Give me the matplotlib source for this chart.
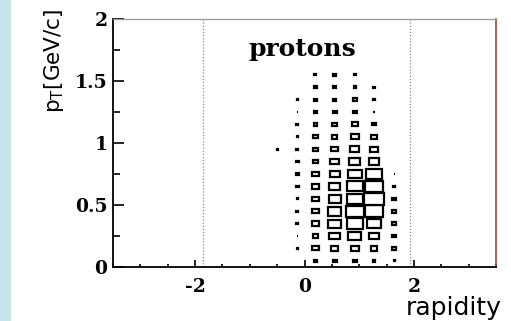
import matplotlib
matplotlib.use("Agg")
import matplotlib.pyplot as plt
from matplotlib.patches import Rectangle
from matplotlib.ticker import MultipleLocator, FixedLocator

# rapidity bin centres (columns) and pT bin centres (rows)
rapidity_centres = [-0.49, -0.13, 0.20, 0.55, 0.92, 1.27, 1.64]
pt_centres = [0.05, 0.15, 0.25, 0.35, 0.45, 0.55, 0.65, 0.75,
              0.85, 0.95, 1.05, 1.15, 1.25, 1.35, 1.45, 1.55]
rap_bin_width = 0.355
pt_bin_width = 0.1

# proton yield per (pT, rapidity) cell, one list per pT bin
counts = [
    [0, 0, 18, 20, 20, 12, 6],     # 0.05
    [0, 8, 32, 40, 42, 34, 18],    # 0.15
    [0, 8, 30, 55, 66, 55, 22],    # 0.25
    [0, 10, 36, 63, 83, 68, 20],   # 0.35
    [0, 10, 36, 70, 90, 95, 22],   # 0.45
    [0, 9, 36, 62, 85, 100, 20],   # 0.55
    [0, 14, 36, 60, 82, 95, 10],   # 0.65
    [0, 12, 35, 52, 70, 78, 7],    # 0.75
    [0, 14, 30, 45, 57, 52, 0],    # 0.85
    [6, 10, 24, 36, 48, 38, 0],    # 0.95
    [0, 8, 22, 28, 38, 28, 0],     # 1.05
    [0, 10, 18, 22, 32, 16, 0],    # 1.15
    [0, 7, 17, 20, 24, 8, 0],      # 1.25
    [0, 7, 15, 16, 18, 8, 0],      # 1.35
    [0, 0, 14, 14, 12, 8, 0],      # 1.45
    [0, 0, 10, 12, 10, 0, 0],      # 1.55
]

x_ticks = [-2, 0, 2]
y_ticks = [0, 0.5, 1, 1.5, 2]
y_tick_labels = ["0", "0.5", "1", "1.5", "2"]
acceptance_edges = [-1.85, 1.93]

W, H = 511, 321
fig = plt.figure(figsize=(W / 100, H / 100), dpi=100)
fig.patch.set_facecolor("white")

# light blue strip down the left edge
fig.add_artist(Rectangle((0, 0), 11 / W, 1, transform=fig.transFigure,
                         facecolor="#c6e4ea", edgecolor="none", zorder=0))

ax = fig.add_axes([113 / W, 1 - 267 / H, (496 - 113) / W, (267 - 19) / H])
ax.set_xlim(-3.5, 3.5)
ax.set_ylim(0, 2)

vmax = max(max(r) for r in counts)
for j, pt in enumerate(pt_centres):
    for i, y in enumerate(rapidity_centres):
        v = counts[j][i]
        if v <= 0:
            continue
        w = rap_bin_width * v / vmax
        h = pt_bin_width * v / vmax
        ax.add_patch(Rectangle((y - w / 2, pt - h / 2), w, h,
                               facecolor="white", edgecolor="black",
                               linewidth=1.6, zorder=3))

for xe in acceptance_edges:
    ax.axvline(xe, color="#888888", linestyle=(0, (1, 1.5)), linewidth=0.9, zorder=1)

ax.text(-0.05, 1.76, "protons", ha="center", va="center",
        fontfamily="DejaVu Serif", fontweight="bold", fontsize=18)

# frame
ax.spines["left"].set_color("black")
ax.spines["left"].set_linewidth(1.3)
ax.spines["bottom"].set_color("black")
ax.spines["bottom"].set_linewidth(1.3)
ax.spines["top"].set_color("#999999")
ax.spines["top"].set_linestyle((0, (1, 1)))
ax.spines["top"].set_linewidth(0.9)
ax.spines["right"].set_color("#a8432e")
ax.spines["right"].set_linewidth(1.2)

ax.xaxis.set_major_locator(FixedLocator(x_ticks))
ax.xaxis.set_minor_locator(MultipleLocator(0.5))
ax.yaxis.set_major_locator(FixedLocator(y_ticks))
ax.yaxis.set_minor_locator(MultipleLocator(0.25))
ax.set_yticklabels(y_tick_labels)
ax.set_xticklabels([str(t) for t in x_ticks])
ax.tick_params(axis="both", which="both", direction="in", top=False, right=False,
               color="black", width=1.2)
ax.tick_params(axis="y", which="major", length=8, pad=4)
ax.tick_params(axis="y", which="minor", length=5)
ax.tick_params(axis="x", which="major", length=5, pad=8)
ax.tick_params(axis="x", which="minor", length=2.5)
for lab in ax.get_xticklabels() + ax.get_yticklabels():
    lab.set_fontfamily("DejaVu Serif")
    lab.set_fontweight("bold")
    lab.set_fontsize(13.5)

plt.rcParams["mathtext.default"] = "regular"
fig.text(54 / W, 1 - 9 / H, "p$_{T}$[GeV/c]", rotation=90, ha="center", va="top",
         fontfamily="DejaVu Sans", fontsize=15.5)
fig.text(502 / W, 1 - 320 / H, "rapidity", ha="right", va="bottom",
         fontfamily="DejaVu Sans", fontsize=18)

fig.savefig("out.png", dpi=100, facecolor="white")
